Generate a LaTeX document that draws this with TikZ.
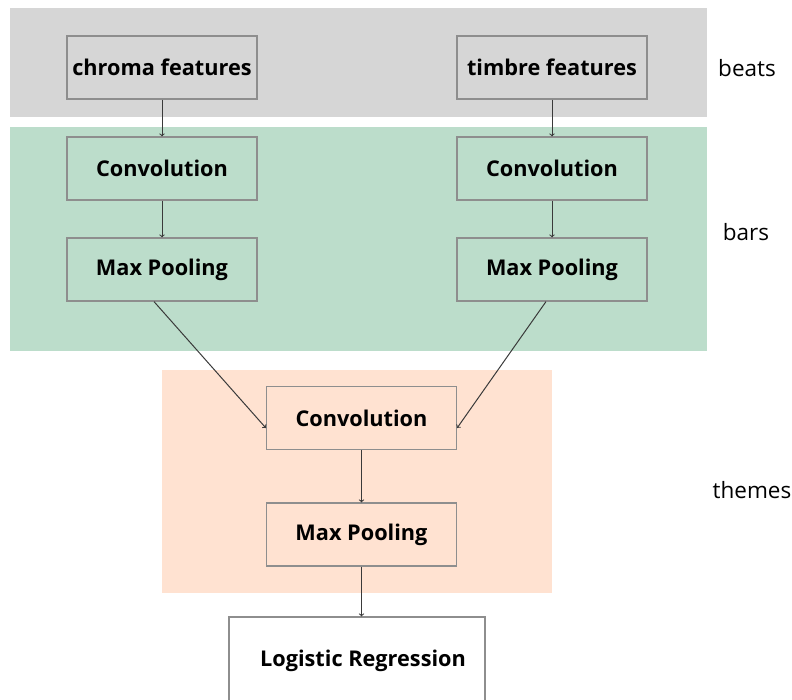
\documentclass[tikz,border=0pt]{standalone}
\usepackage{fontspec}
\setmainfont{Open Sans}
\usepackage{xcolor}
\definecolor{beatgray}{HTML}{D6D6D6}
\definecolor{bargreen}{HTML}{BCDDCB}
\definecolor{themepeach}{HTML}{FFE2D1}
\definecolor{boxline}{HTML}{8E8E8E}
\definecolor{arrowline}{HTML}{3A3A3A}

\tikzset{
    layer/.style={draw=boxline, line width=1.2pt, minimum width=190pt, minimum height=63pt,
        inner sep=2pt, font=\fontsize{21.7}{24}\selectfont\bfseries},
    flow/.style={->, draw=arrowline, line width=1pt},
    levellabel/.style={font=\fontsize{22.5}{26}\selectfont}
}

\begin{document}
\begin{tikzpicture}[x=1pt,y=-1pt]
        \useasboundingbox (0,0) rectangle (792,700);

        \fill[beatgray] (10,8) rectangle (707,117);
        \fill[bargreen] (10,127) rectangle (707,351);
        \fill[themepeach] (162,370) rectangle (552,593);

        \node[layer] (chroma) at (162,67.5) {chroma features};
        \node[layer] (timbre) at (552,67.5) {timbre features};

        \node[layer] (lconv) at (162,168.5) {Convolution};
        \node[layer] (lpool) at (162,269.5) {Max Pooling};
        \node[layer] (rconv) at (552,168.5) {Convolution};
        \node[layer] (rpool) at (552,269.5) {Max Pooling};

        \node[layer] (conv) at (361.5,418) {Convolution};
        \node[layer] (pool) at (361.5,534.5) {Max Pooling};

        \node[layer, fill=white, minimum width=256pt, minimum height=88pt] (logreg) at (357,661) {\hspace{12pt}Logistic Regression};

        \node[levellabel] (beats) at (747,68) {beats};
        \node[levellabel] (bars) at (746,232) {bars};
        \node[levellabel] (themes) at (752,490) {themes};

        \draw[flow] (chroma) -- (lconv);
        \draw[flow] (lconv) -- (lpool);
        \draw[flow] (timbre) -- (rconv);
        \draw[flow] (rconv) -- (rpool);
        \draw[flow] ([xshift=-8pt]lpool.south) -- ([yshift=-10pt]conv.west);
        \draw[flow] ([xshift=-6pt]rpool.south) -- ([yshift=-10pt]conv.east);
        \draw[flow] (conv) -- (pool);
        \draw[flow] (pool.south) -- (pool.south |- logreg.north);

    \end{tikzpicture}
\end{document}
